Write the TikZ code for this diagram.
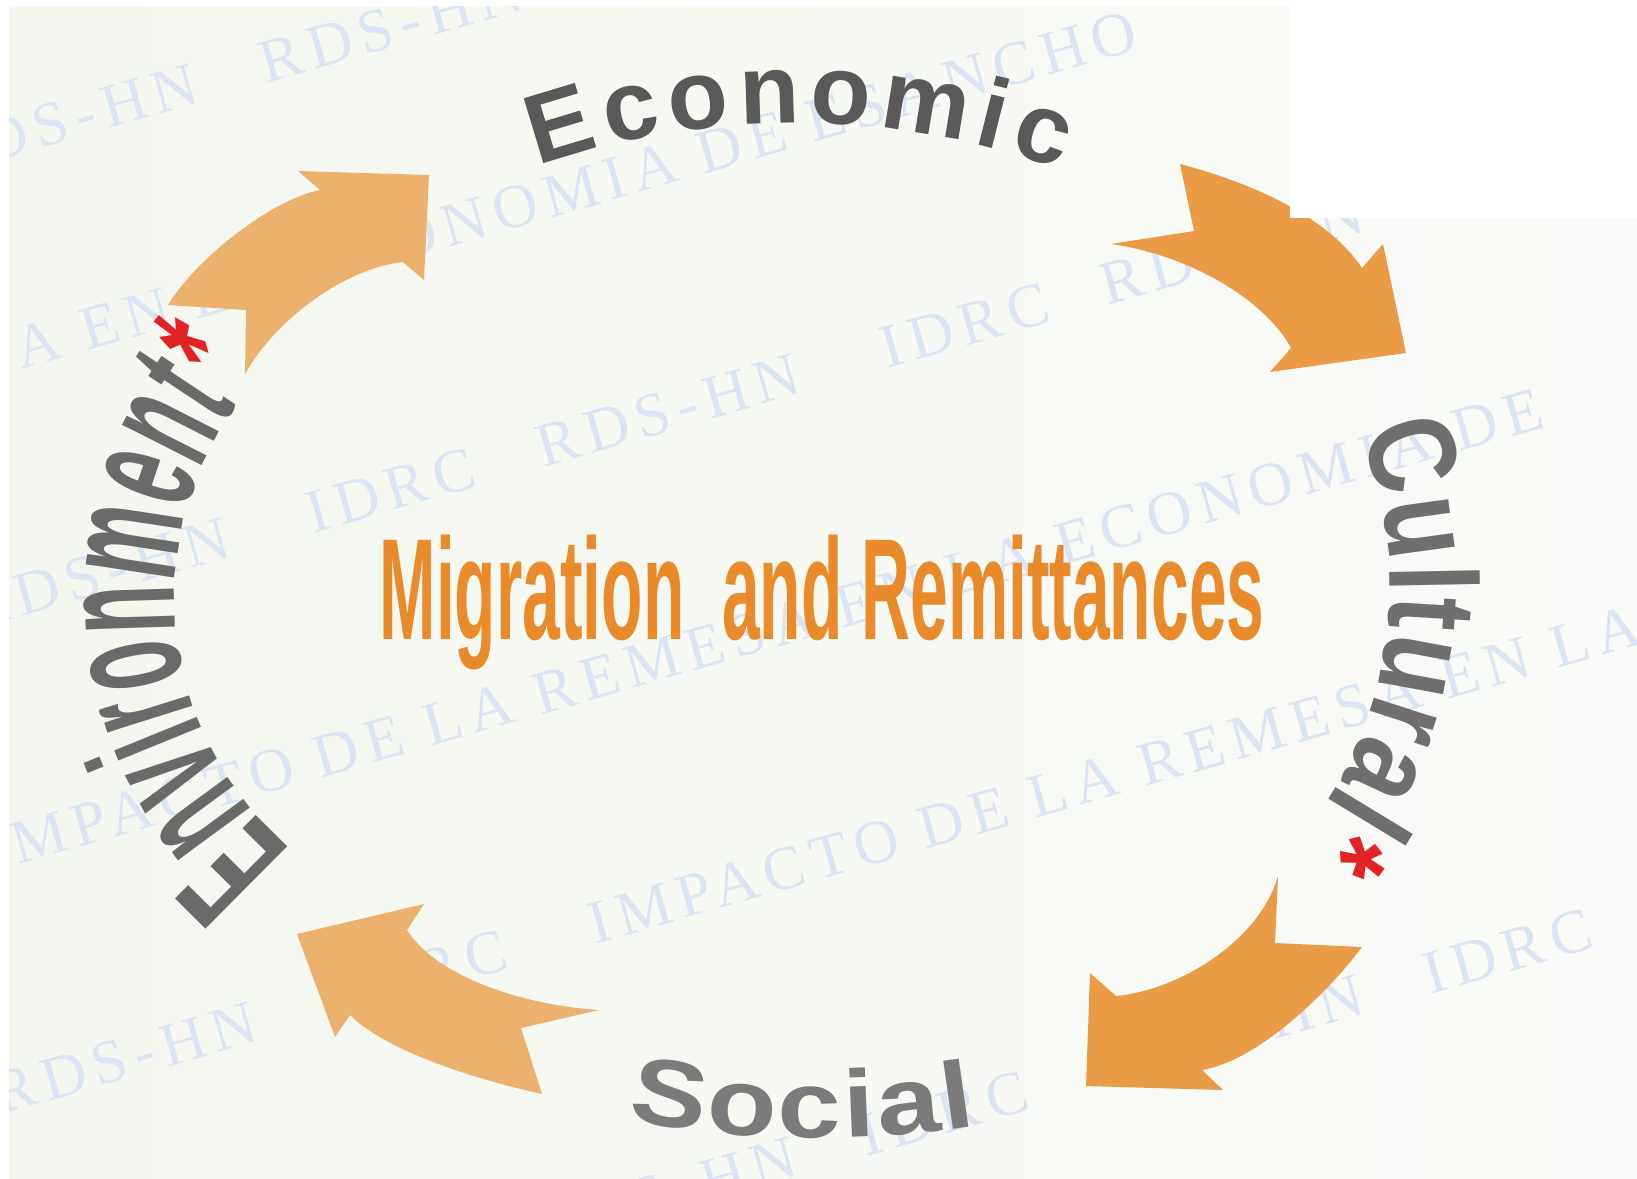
\documentclass[tikz,border=0pt]{standalone}
\usepackage{fontspec}
\setmainfont{Liberation Sans}
\newfontfamily\labelfont{Liberation Sans}
\newfontfamily\cultfont[FakeStretch=0.8]{Liberation Sans}
\newfontfamily\envfont[FakeStretch=0.47]{Liberation Sans}
\newfontfamily\socialfont[FakeStretch=1.2]{Liberation Sans}
\newfontfamily\migfont[FakeStretch=0.47]{Liberation Sans}
\newfontfamily\wmfont[LetterSpace=13]{Liberation Serif}
\usetikzlibrary{decorations.text}

\definecolor{bgleft}{RGB}{244,247,239}
\definecolor{bgright}{RGB}{250,251,248}
\definecolor{wmblue}{RGB}{218,228,244}
\definecolor{arrowlight}{RGB}{237,177,110}
\definecolor{arrowdark}{RGB}{233,155,70}
\definecolor{econgray}{RGB}{90,88,88}
\definecolor{cultgray}{RGB}{111,111,111}
\definecolor{envgray}{RGB}{106,106,106}
\definecolor{socgray}{RGB}{123,123,123}
\definecolor{starred}{RGB}{226,35,38}
\definecolor{migorange}{RGB}{233,139,43}

\newcommand{\cultstyle}{\cultfont\bfseries\fontsize{35.5}{36}\selectfont}
\newcommand{\envstyle}{\envfont\bfseries\fontsize{48}{48}\selectfont}

\tikzset{
  wm/.style={text=wmblue,font=\wmfont\fontsize{17.6}{18}\selectfont,rotate=16,anchor=base west,inner sep=0pt},
  arclabel/.style={decorate,decoration={text along path,text align=fit to path,text={#1}}}
}

\begin{document}
\begin{tikzpicture}[x=0.01cm,y=0.01cm]
        \useasboundingbox (0,0) rectangle (1637,-1178);
        \fill[white] (0,0) rectangle (1637,-1178);
        \shade[left color=bgleft,right color=bgright] (9,-6) rectangle (1637,-1178);
        \begin{scope}
            \clip (9,-6) rectangle (1637,-1178);
            \foreach \x/\yo/\txt [count=\i] in {-59/160/RDS-HN, 266/160/RDS-HN,
                    21/376/A EN LA ECONOMIA DE ESANCHO,
                    -27/623/RDS-HN, 313/623/IDRC, 543/623/RDS-HN, 887/623/IDRC, 1107/623/RDS-HN,
                    -10/870/IMPACTO DE LA REMESA EN LA ECONOMIA DE,
                    0/1115/RDS-HN, 345/1115/IDRC, 595/1115/IMPACTO DE LA REMESA EN LA,
                    540/1405/RDS-HN, 866/1405/IDRC, 1107/1405/RDS-HN, 1430/1405/IDRC}
                \node[wm] (wm\i) at (\x,{0.2867*\x-\yo}) {\txt};
        \end{scope}
        \fill[arrowlight] (168,-305) -- (246,-310) -- (245,-374)
            .. controls (275,-320) and (345,-268) .. (403,-262)
            -- (424,-280) -- (429,-175) -- (298,-171) -- (320,-190)
            .. controls (270,-200) and (195,-260) .. (168,-305) -- cycle;
        \fill[arrowdark] (1180,-164) .. controls (1260,-185) and (1330,-220) .. (1362,-268)
            -- (1383,-244) -- (1406,-353) -- (1270,-372) -- (1291,-348)
            .. controls (1265,-300) and (1190,-255) .. (1111,-244)
            -- (1194,-231) -- cycle;
        \fill[arrowdark] (1278,-876) -- (1275,-943) -- (1362,-947)
            .. controls (1330,-990) and (1260,-1060) .. (1202,-1070)
            -- (1223,-1090) -- (1086,-1086) -- (1090,-973) -- (1116,-996)
            .. controls (1180,-990) and (1260,-940) .. (1278,-876) -- cycle;
        \fill[arrowlight] (599,-1010) -- (521,-1028) -- (542,-1094)
            .. controls (470,-1078) and (385,-1050) .. (350,-1015)
            -- (335,-1037) -- (297,-934) -- (424,-904) -- (407,-930)
            .. controls (435,-975) and (520,-1005) .. (599,-1010) -- cycle;
        \fill[white] (1290,0) rectangle (1637,-218);
        \path[arclabel={|\labelfont\bfseries\fontsize{28}{28}\selectfont\color{econgray}|Economic}]
            (795,-905) ++(109.2:782) arc[start angle=109.2,end angle=70.2,radius=782];
        \path[arclabel={|\cultstyle\color{cultgray}|Cultural|\cultstyle\color{starred}|*}]
            (992,-587) ++(22.8:398) arc[start angle=22.8,end angle=-39.1,radius=398];
        \path[arclabel={|\envstyle\color{envgray}|Environment|\envstyle\color{starred}|*}]
            (505,-598) ++(229.8:330) arc[start angle=229.8,end angle=138.6,radius=330];
        \path[arclabel={|\socialfont\bfseries\fontsize{27}{27}\selectfont\color{socgray}|Social}]
            (820,-138) ++(258.9:1000) arc[start angle=258.9,end angle=279,radius=1000];
        \node[font=\migfont\bfseries\fontsize{41}{41}\selectfont,text=migorange,anchor=base,inner sep=0pt] (title) at (822,-639) {Migration~~and Remittances};
    \end{tikzpicture}
\end{document}
